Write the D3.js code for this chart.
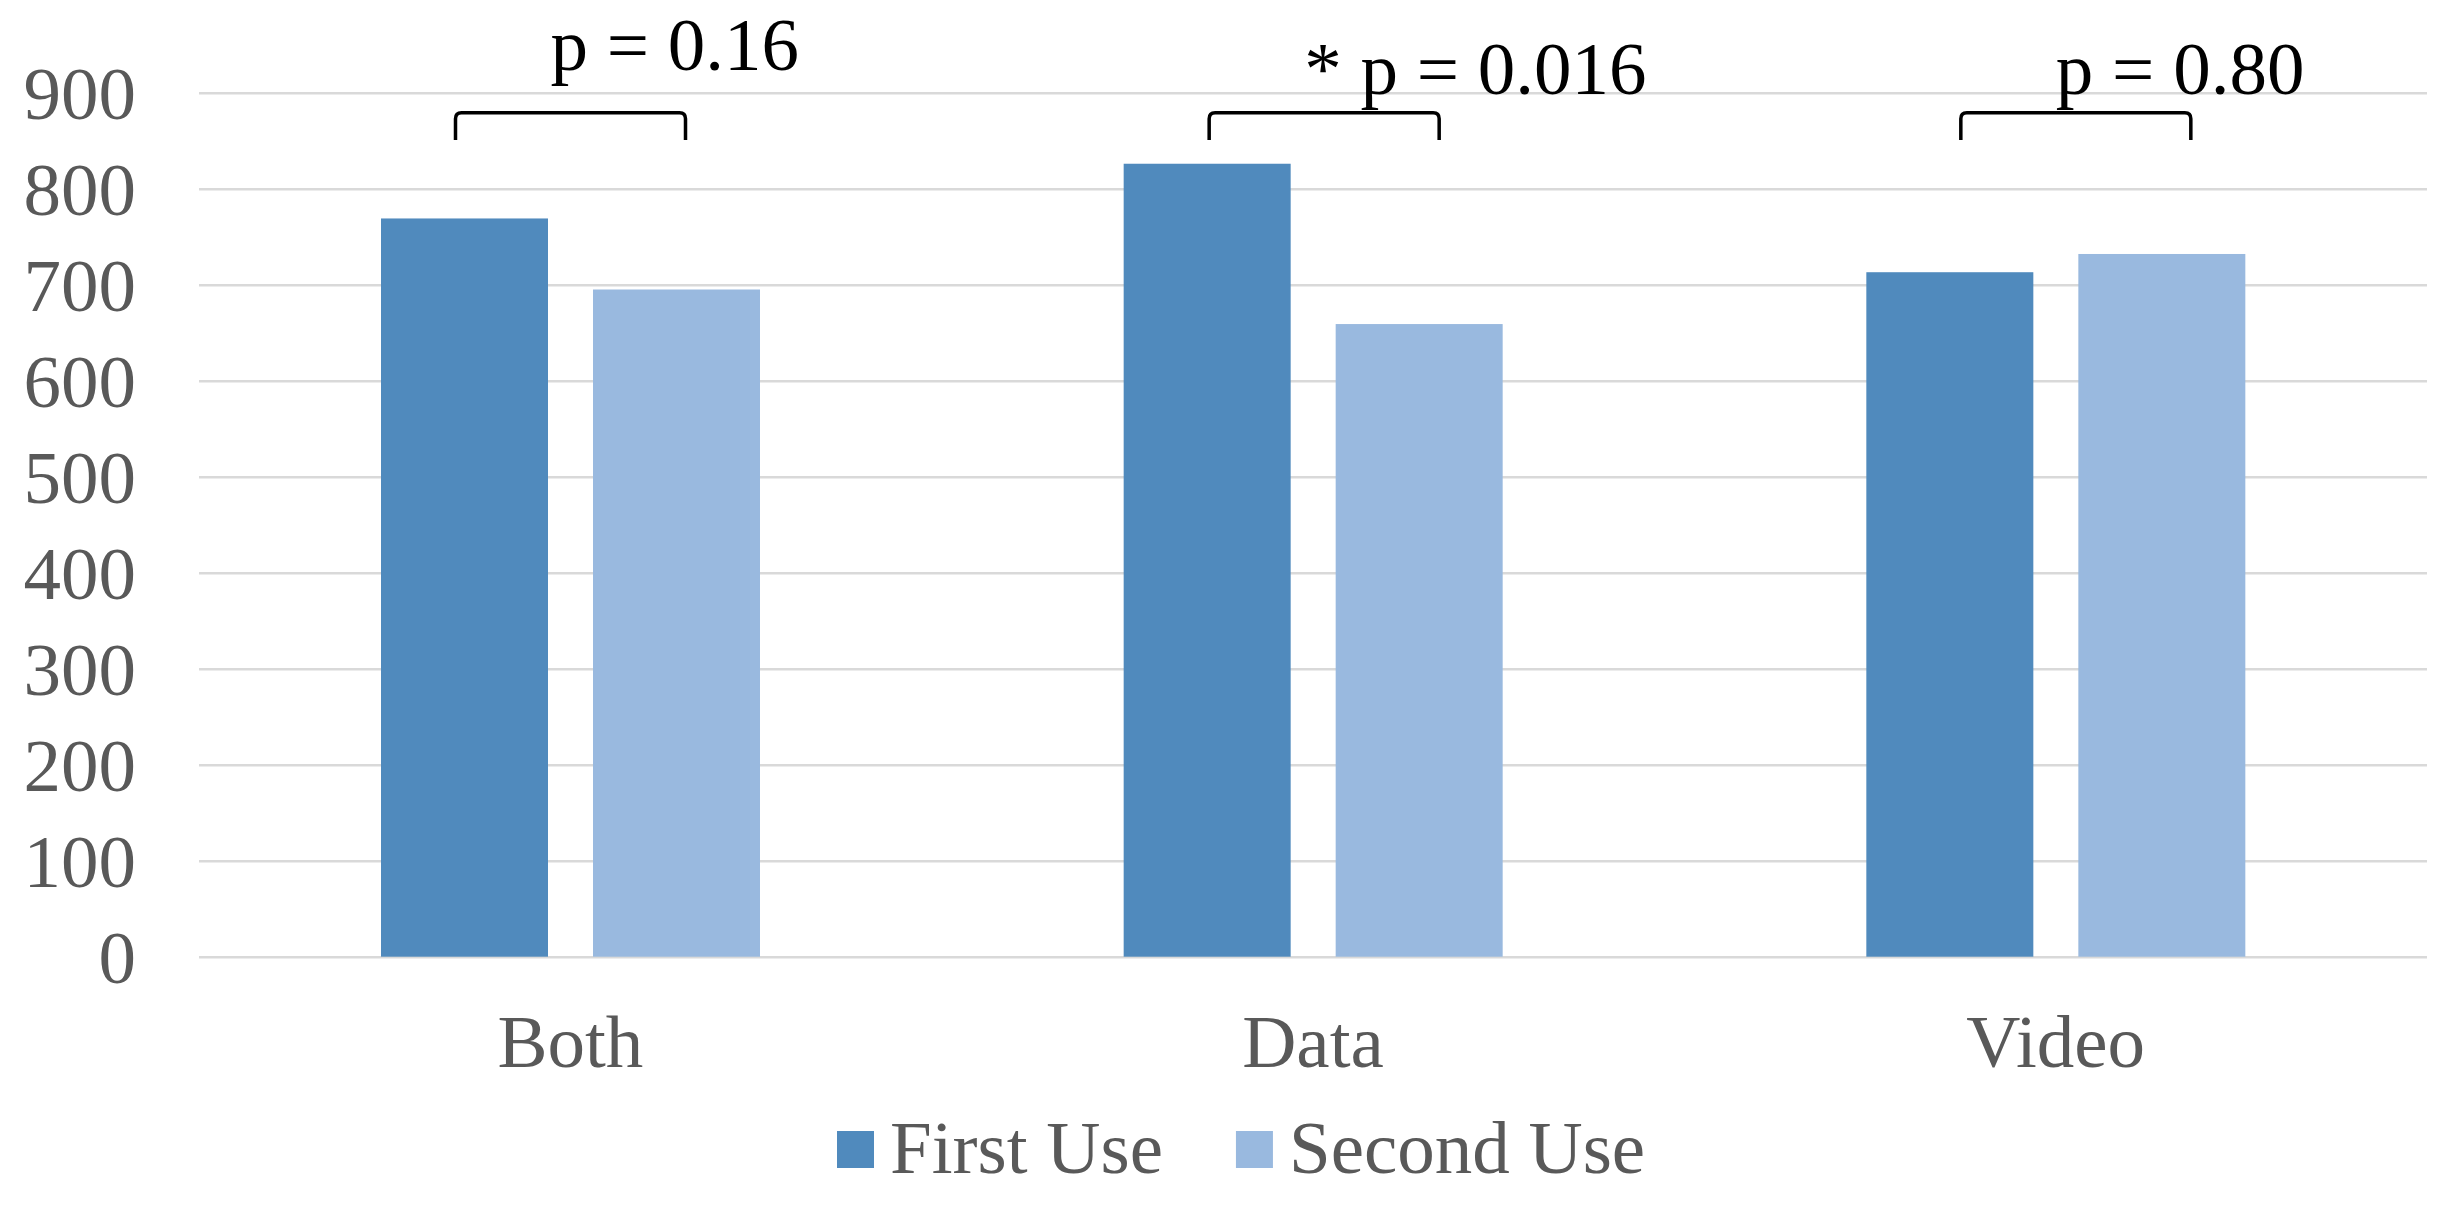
<!DOCTYPE html>
<html>
<head>
<meta charset="utf-8">
<script src="https://cdn.jsdelivr.net/npm/d3@7"></script>
<style>
  body { margin: 0; background: #fff; }
  svg { display: block; }
  text { font-family: 'Times New Roman', 'Liberation Serif', serif; }
</style>
</head>
<body>
<div id="chart"></div>
<script>
/* global d3 */

const categories = [ 'Both', 'Data', 'Video' ]
const seriesNames = [ 'First Use', 'Second Use' ]
const firstUse = [ 769, 826, 713 ]
const secondUse = [ 695, 659, 732 ]
const pLabels = [ 'p = 0.16', '* p = 0.016', 'p = 0.80' ]
const yTicks = [ 0, 100, 200, 300, 400, 500, 600, 700, 800, 900 ]

const width = 2439
const height = 1205
const plot = { left: 199, right: 2427, top: 92.7, bottom: 956.7 }
const colors = [ '#508abd', '#99b9df' ]
const gray = '#595959'
const fontSize = 75

// hand placed annotations sit a little differently in the original
const labelLift = [ 24, 0, 0 ]
const bracketShift = [ -9, 2, 11 ]

const svg = d3.select('#chart').append('svg').attr('width', width).attr('height', height)

const x0 = d3.scaleBand().domain(categories).range([ plot.left, plot.right ])
const x1 = d3.scaleBand().domain(seriesNames).range([ 182, 561 ]).paddingInner(0.2123)
const y = d3.scaleLinear().domain([ 0, 900 ]).range([ plot.bottom, plot.top ])

// grid + y labels
const yAxis = svg
  .append('g')
  .attr('transform', `translate(${plot.left},0)`)
  .call(d3.axisLeft(y).tickValues(yTicks).tickSize(-(plot.right - plot.left)).tickPadding(63))
yAxis.select('.domain').remove()
yAxis.selectAll('.tick line').attr('stroke', '#d9d9d9').attr('stroke-width', 2.5)
yAxis
  .selectAll('.tick text')
  .attr('fill', gray)
  .attr('font-size', fontSize + 'px')
  .attr('font-family', "'Times New Roman', 'Liberation Serif', serif")
  .attr('dy', '0.35em')

// bars
const rows = categories.map((c, i) => ({ category: c, values: [ firstUse[i], secondUse[i] ] }))

const groups = svg
  .append('g')
  .selectAll('g')
  .data(rows)
  .enter()
  .append('g')
  .attr('transform', (d) => `translate(${x0(d.category)},0)`)

groups
  .selectAll('rect')
  .data((d) => d.values.map((v, j) => ({ name: seriesNames[j], value: v })))
  .enter()
  .append('rect')
  .attr('x', (d) => x1(d.name))
  .attr('y', (d) => y(d.value))
  .attr('width', x1.bandwidth())
  .attr('height', (d) => y(0) - y(d.value))
  .attr('fill', (d, j) => colors[j])

// x labels
svg
  .append('g')
  .selectAll('text')
  .data(categories)
  .enter()
  .append('text')
  .attr('x', (c) => x0(c) + x0.bandwidth() / 2)
  .attr('y', 1067)
  .attr('text-anchor', 'middle')
  .attr('fill', gray)
  .attr('font-size', fontSize + 'px')
  .text((c) => c)

// significance brackets
const bracketTop = 112.7
const bracketBottom = 140
const r = 6
categories.forEach((c, i) => {
  const left = x0(c) + x1(seriesNames[0]) + x1.bandwidth() / 2 + bracketShift[i]
  const right = x0(c) + x1(seriesNames[1]) + x1.bandwidth() / 2 + 18 + bracketShift[i]
  const path = d3.path()
  path.moveTo(left, bracketBottom)
  path.lineTo(left, bracketTop + r)
  path.quadraticCurveTo(left, bracketTop, left + r, bracketTop)
  path.lineTo(right - r, bracketTop)
  path.quadraticCurveTo(right, bracketTop, right, bracketTop + r)
  path.lineTo(right, bracketBottom)
  svg
    .append('path')
    .attr('d', path.toString())
    .attr('fill', 'none')
    .attr('stroke', '#000')
    .attr('stroke-width', 3.5)

  svg
    .append('text')
    .attr('x', (left + right) / 2 - 20)
    .attr('y', y(900) + 1 - labelLift[i])
    .attr('fill', '#000')
    .attr('font-size', fontSize + 'px')
    .text(pLabels[i])
})

// legend
const legend = svg.append('g').attr('transform', 'translate(837,0)')
let cursor = 0
seriesNames.forEach((name, j) => {
  legend
    .append('rect')
    .attr('x', cursor)
    .attr('y', 1131)
    .attr('width', 37)
    .attr('height', 37)
    .attr('fill', colors[j])
  const t = legend
    .append('text')
    .attr('x', cursor + 53)
    .attr('y', 1173)
    .attr('fill', gray)
    .attr('font-size', fontSize + 'px')
    .text(name)
  cursor += 53 + t.node().getComputedTextLength() + 73
})
</script>
</body>
</html>
